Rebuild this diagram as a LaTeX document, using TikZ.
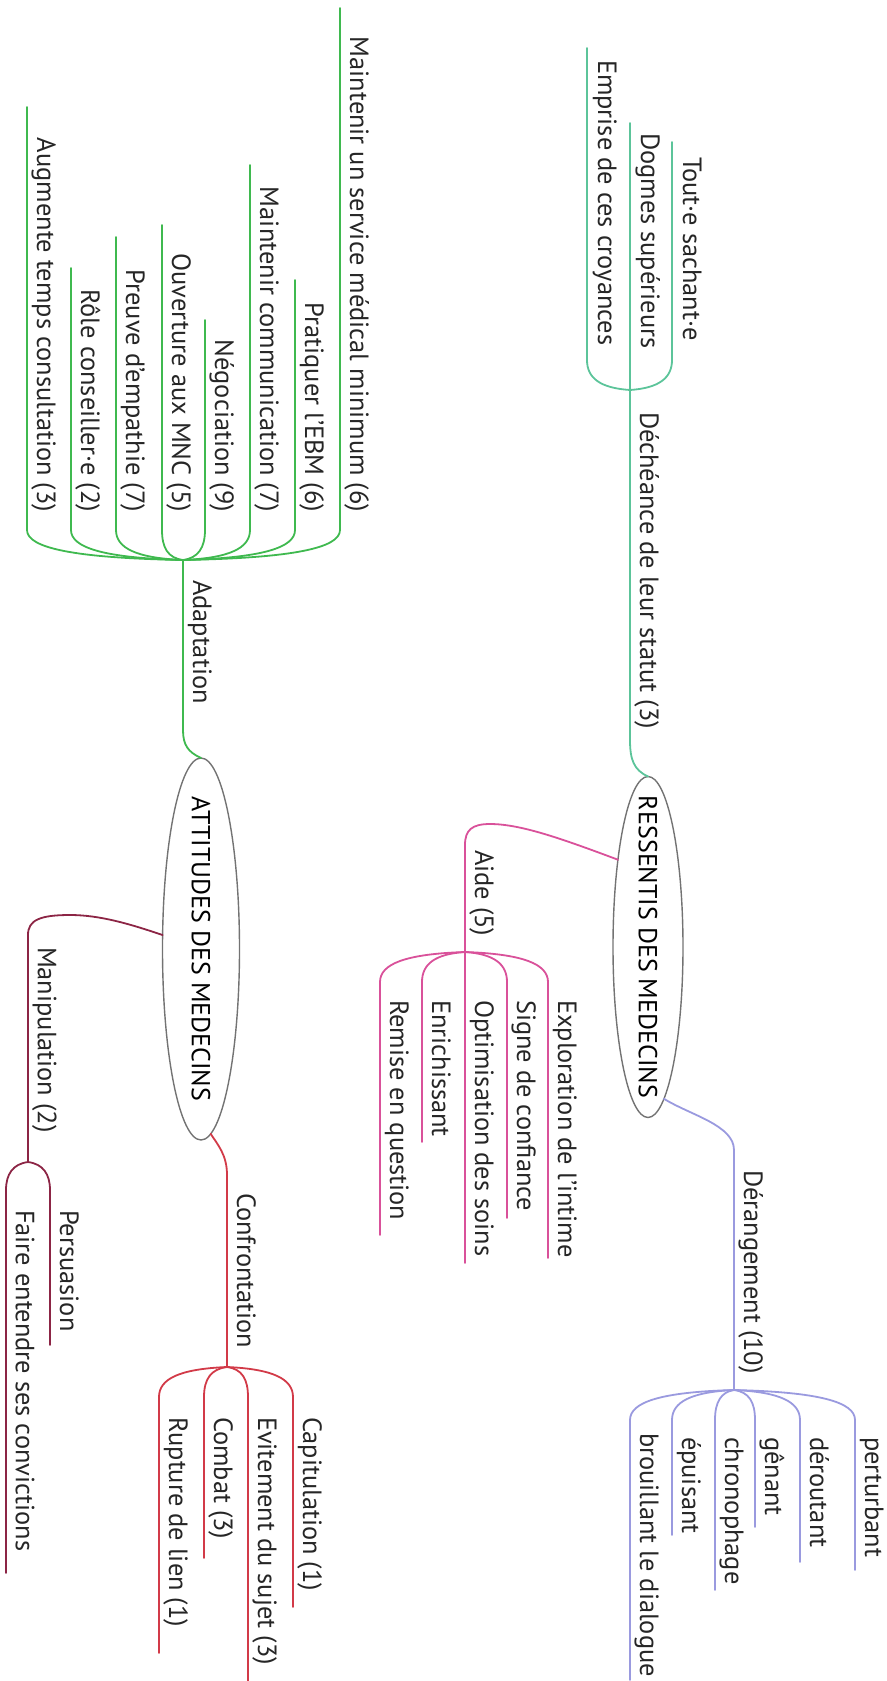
\documentclass[tikz,border=0pt]{standalone}
\usepackage{fontspec}
\setmainfont{PT Sans}
\usetikzlibrary{shapes.geometric}
\definecolor{brteal}{HTML}{5CC49A}
\definecolor{brgreen}{HTML}{3FB94F}
\definecolor{brpink}{HTML}{D9519A}
\definecolor{brlav}{HTML}{9A9ADF}
\definecolor{brmaroon}{HTML}{8C2545}
\definecolor{brred}{HTML}{D23A48}
\definecolor{rootgray}{gray}{0.45}

\begin{document}
\begin{tikzpicture}[x=0.5pt,y=-0.5pt,
    line width=0.9pt, line cap=round, line join=round,
    every node/.style={inner sep=0pt,outer sep=0pt},
    lab/.style={rotate=-90,anchor=base west,text=black!85,
      font=\fontsize{13.2}{16}\selectfont},
    labr/.style={lab,anchor=base east},
    root/.style={ellipse,draw=rootgray,line width=0.7pt,rotate=-90,
      inner xsep=-25pt,font=\fontsize{13}{15}\selectfont}]
  \useasboundingbox (0,0) rectangle (887,1681);
  % ---- noeuds centraux ----
  \node[root,minimum width=170.5pt,minimum height=35pt] (ress) at (648,947) {RESSENTIS DES MEDECINS};
  \node[root,minimum width=191pt,minimum height=38.5pt] (att) at (201,949) {ATTITUDES DES MEDECINS};
  % ---- fourches ----
  \coordinate (dech)   at (630,390);
  \coordinate (adapt)  at (183,560);
  \coordinate (aide)   at (465,952);
  \coordinate (derang) at (734,1390);
  \coordinate (manip)  at (28,1162);
  \coordinate (confr)  at (227,1367);
  % ---- bouts libres des sous-branches ----
  \coordinate (tout)   at (672,142);
  \coordinate (dogm)   at (630,123);
  \coordinate (empr)   at (587,48);
  \coordinate (msm)    at (340,8);
  \coordinate (ebm)    at (295,280);
  \coordinate (comm)   at (250,165);
  \coordinate (nego)   at (205,320);
  \coordinate (mnc)    at (162,225);
  \coordinate (empa)   at (116,237);
  \coordinate (cons)   at (71,268);
  \coordinate (temps)  at (27,107);
  \coordinate (expl)   at (548,1258);
  \coordinate (signe)  at (507,1218);
  \coordinate (optim)  at (465,1263);
  \coordinate (enri)   at (422,1142);
  \coordinate (remise) at (380,1235);
  \coordinate (pert)   at (855,1570);
  \coordinate (dero)   at (800,1562);
  \coordinate (gena)   at (755,1527);
  \coordinate (chro)   at (715,1590);
  \coordinate (epui)   at (672,1535);
  \coordinate (brou)   at (630,1680);
  \coordinate (pers)   at (50,1345);
  \coordinate (faire)  at (6,1573);
  \coordinate (capi)   at (293,1607);
  \coordinate (evit)   at (248,1681);
  \coordinate (comb)   at (204,1558);
  \coordinate (rupt)   at (159,1653);
  % ---- RESSENTIS : Déchéance ----
  \draw[brteal] (ress.west) .. controls (634,770) and (630,760) .. (630,740) -- (dech);
  \draw[brteal] (dech) .. controls (659,388) and (672,378) .. (672,360) -- (tout);
  \draw[brteal] (dech) -- (dogm);
  \draw[brteal] (dech) .. controls (600,388) and (587,378) .. (587,360) -- (empr);
  % ---- RESSENTIS : Aide ----
  \draw[brpink] (ress.199) .. controls (560,838) and (520,824) .. (490,824)
                .. controls (472,824) and (465,830) .. (465,845) -- (aide);
  \draw[brpink] (aide) .. controls (523,954) and (548,964) .. (548,982) -- (expl);
  \draw[brpink] (aide) .. controls (494,954) and (507,964) .. (507,982) -- (signe);
  \draw[brpink] (aide) -- (optim);
  \draw[brpink] (aide) .. controls (435,954) and (422,964) .. (422,982) -- (enri);
  \draw[brpink] (aide) .. controls (405,954) and (380,964) .. (380,982) -- (remise);
  % ---- RESSENTIS : Dérangement ----
  \draw[brlav] (ress.6) .. controls (690,1115) and (734,1125) .. (734,1150) -- (derang);
  \draw[brlav] (derang) .. controls (819,1392) and (855,1402) .. (855,1420) -- (pert);
  \draw[brlav] (derang) .. controls (780,1392) and (800,1402) .. (800,1420) -- (dero);
  \draw[brlav] (derang) .. controls (749,1392) and (755,1402) .. (755,1420) -- (gena);
  \draw[brlav] (derang) .. controls (721,1392) and (715,1402) .. (715,1420) -- (chro);
  \draw[brlav] (derang) .. controls (691,1392) and (672,1402) .. (672,1420) -- (epui);
  \draw[brlav] (derang) .. controls (661,1392) and (630,1402) .. (630,1420) -- (brou);
  % ---- ATTITUDES : Adaptation ----
  \draw[brgreen] (att.west) .. controls (188,752) and (183,745) .. (183,730) -- (adapt);
  \draw[brgreen] (adapt) .. controls (293,558) and (340,548) .. (340,530) -- (msm);
  \draw[brgreen] (adapt) .. controls (261,558) and (295,548) .. (295,530) -- (ebm);
  \draw[brgreen] (adapt) .. controls (230,558) and (250,548) .. (250,530) -- (comm);
  \draw[brgreen] (adapt) .. controls (198,558) and (205,548) .. (205,530) -- (nego);
  \draw[brgreen] (adapt) .. controls (168,558) and (162,548) .. (162,530) -- (mnc);
  \draw[brgreen] (adapt) .. controls (136,558) and (116,548) .. (116,530) -- (empa);
  \draw[brgreen] (adapt) .. controls (105,558) and (71,548) .. (71,530) -- (cons);
  \draw[brgreen] (adapt) .. controls (74,558) and (27,548) .. (27,530) -- (temps);
  % ---- ATTITUDES : Manipulation ----
  \draw[brmaroon] (att.250) .. controls (130,924) and (100,915) .. (70,915)
                  .. controls (40,915) and (28,920) .. (28,935) -- (manip);
  \draw[brmaroon] (manip) .. controls (43,1164) and (50,1174) .. (50,1190) -- (pers);
  \draw[brmaroon] (manip) .. controls (13,1164) and (6,1174) .. (6,1190) -- (faire);
  % ---- ATTITUDES : Confrontation ----
  \draw[brred] (att.3) .. controls (218,1145) and (227,1155) .. (227,1175) -- (confr);
  \draw[brred] (confr) .. controls (273,1369) and (293,1379) .. (293,1397) -- (capi);
  \draw[brred] (confr) .. controls (242,1369) and (248,1379) .. (248,1397) -- (evit);
  \draw[brred] (confr) .. controls (211,1369) and (204,1379) .. (204,1397) -- (comb);
  \draw[brred] (confr) .. controls (179,1369) and (159,1379) .. (159,1397) -- (rupt);
  % ---- textes des branches ----
  \node[lab] (tdech)   at (640,412)  {Déchéance de leur statut (3)};
  \node[lab] (ttout)   at (683,157)  {Tout·e sachant·e};
  \node[lab] (tdogm)   at (641,133)  {Dogmes supérieurs};
  \node[lab] (tempr)   at (598,60)   {Emprise de ces croyances};
  \node[lab] (taide)   at (475,850)  {Aide (5)};
  \node[lab] (texpl)   at (558,1000) {Exploration de l'intime};
  \node[lab] (tsigne)  at (517,1000) {Signe de confiance};
  \node[lab] (toptim)  at (475,1000) {Optimisation des soins};
  \node[lab] (tenri)   at (432,1000) {Enrichissant};
  \node[lab] (tremise) at (390,1000) {Remise en question};
  \node[lab] (tderang) at (744,1170) {Dérangement (10)};
  \node[lab] (tpert)   at (865,1437) {perturbant};
  \node[lab] (tdero)   at (810,1437) {déroutant};
  \node[lab] (tgena)   at (765,1437) {gênant};
  \node[lab] (tchro)   at (725,1437) {chronophage};
  \node[lab] (tepui)   at (682,1437) {épuisant};
  \node[lab] (tbrou)   at (640,1433) {brouillant le dialogue};
  \node[lab] (tadapt)  at (193,580)  {Adaptation};
  \node[labr] (tmsm)   at (350,512)  {Maintenir un service médical minimum (6)};
  \node[labr] (tebm)   at (305,512)  {Pratiquer l'EBM (6)};
  \node[labr] (tcomm)  at (260,512)  {Maintenir communication (7)};
  \node[labr] (tnego)  at (215,512)  {Négociation (9)};
  \node[labr] (tmnc)   at (172,512)  {Ouverture aux MNC (5)};
  \node[labr] (tempa)  at (126,512)  {Preuve d'empathie (7)};
  \node[labr] (tcons)  at (81,512)   {Rôle conseiller·e (2)};
  \node[labr] (ttemps) at (37,512)   {Augmente temps consultation (3)};
  \node[lab] (tmanip)  at (38,947)   {Manipulation (2)};
  \node[lab] (tpers)   at (60,1210)  {Persuasion};
  \node[lab] (tfaire)  at (16,1210)  {Faire entendre ses convictions};
  \node[lab] (tconfr)  at (237,1193) {Confrontation};
  \node[lab] (tcapi)   at (303,1417) {Capitulation (1)};
  \node[lab] (tevit)   at (258,1417) {Evitement du sujet (3)};
  \node[lab] (tcomb)   at (214,1417) {Combat (3)};
  \node[lab] (trupt)   at (169,1417) {Rupture de lien (1)};
\end{tikzpicture}
\end{document}
